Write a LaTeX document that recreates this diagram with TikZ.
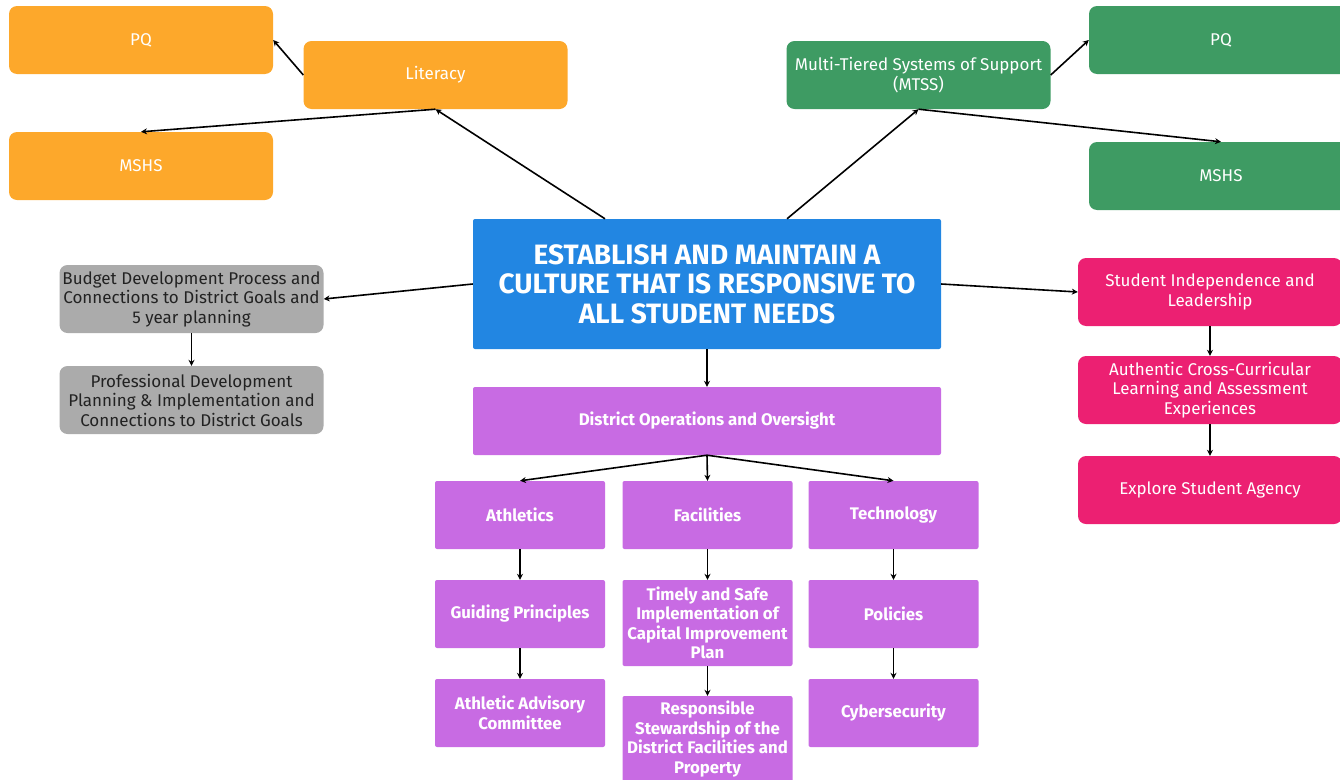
\documentclass[tikz,border=0pt]{standalone}
\usepackage{fontspec}
\setmainfont{Fira Sans}
\usetikzlibrary{arrows.meta}
\definecolor{goal_orange}{RGB}{253, 168, 43}
\definecolor{goal_green}{RGB}{62, 155, 99}
\definecolor{goal_blue}{RGB}{34, 134, 226}
\definecolor{goal_gray}{RGB}{171, 171, 171}
\definecolor{goal_pink}{RGB}{236, 32, 114}
\definecolor{goal_purple}{RGB}{200, 107, 227}
\definecolor{dark_text}{RGB}{34, 34, 34}

\tikzset{
  box/.style={rounded corners=8pt, minimum width=264pt, minimum height=68pt,
    inner sep=2pt, align=center, text=white,
    font=\fontsize{17}{19.5}\selectfont},
  orangebox/.style={box, fill=goal_orange},
  greenbox/.style={box, fill=goal_green},
  graybox/.style={box, fill=goal_gray, text=dark_text},
  pinkbox/.style={box, fill=goal_pink},
  rootbox/.style={fill=goal_blue, rounded corners=2pt, minimum width=468pt,
    minimum height=130pt, align=center, text=white,
    font=\bfseries\fontsize{28}{29.5}\selectfont},
  opsbox/.style={fill=goal_purple, rounded corners=2pt, minimum width=170pt,
    minimum height=68pt, inner sep=1pt, align=center, text=white,
    font=\bfseries\fontsize{16.8}{19.5}\selectfont},
  link/.style={-{Stealth[length=6pt, width=6pt]}, line width=1.6pt}
}

\begin{document}
\begin{tikzpicture}[x=1pt, y=-1pt]
\useasboundingbox (0, 0) rectangle (1340, 779);
\clip (0, 0) rectangle (1340, 779);

% centre
\node[rootbox] (root) at (707, 284)
  {ESTABLISH AND MAINTAIN A\\CULTURE THAT IS RESPONSIVE TO\\ALL STUDENT NEEDS};

% literacy
\node[orangebox] (pqL) at (141, 40) {PQ};
\node[orangebox] (lit) at (435.5, 75) {Literacy};
\node[orangebox] (mshsL) at (141, 166) {MSHS};

% mtss
\node[greenbox] (mtss) at (918.5, 75) {Multi-Tiered Systems of Support\\(MTSS)};
\node[greenbox] (pqR) at (1221, 40) {PQ};
\node[greenbox] (mshsR) at (1221, 176) {MSHS};

% budget
\node[graybox] (budget) at (191.5, 299)
  {Budget Development Process and\\Connections to District Goals and\\5 year planning};
\node[graybox] (pd) at (191.5, 400)
  {Professional Development\\Planning \& Implementation and\\Connections to District Goals};

% students
\node[pinkbox] (indep) at (1210, 292) {Student Independence and\\Leadership};
\node[pinkbox] (cross) at (1210, 390)
  {Authentic Cross-Curricular\\Learning and Assessment\\Experiences};
\node[pinkbox] (agency) at (1210, 490) {Explore Student Agency};

% operations
\node[opsbox, minimum width=468pt] (ops) at (707, 421) {District Operations and Oversight};
\node[opsbox] (ath) at (520, 515) {Athletics};
\node[opsbox] (fac) at (707.5, 515) {Facilities};
\node[opsbox] (tech) at (893.5, 515) {Technology\vphantom{A}};
\node[opsbox] (guide) at (520, 614) {Guiding Principles};
\node[opsbox, minimum height=86pt] (capital) at (707.5, 623)
  {Timely and Safe\\Implementation of\\Capital Improvement\\Plan};
\node[opsbox] (policy) at (893.5, 614) {Policies};
\node[opsbox] (advisory) at (520, 713) {Athletic Advisory\\Committee};
\node[opsbox, minimum height=86pt] (steward) at (707.5, 739)
  {Responsible\\Stewardship of the\\District Facilities and\\Property};
\node[opsbox] (cyber) at (893.5, 713) {Cybersecurity};

% connectors
\draw[link] ([xshift=-102pt]root.north) -- (lit.south);
\draw[link] (lit.west) -- (pqL.east);
\draw[link] (lit.south) -- (mshsL.north);
\draw[link] ([xshift=80pt]root.north) -- (mtss.south);
\draw[link] (mtss.east) -- (pqR.west);
\draw[link] (mtss.south) -- (mshsR.north);
\draw[link] (root.west) -- (budget.east);
\draw[link] (budget) -- (pd);
\draw[link] (root.east) -- (indep.west);
\draw[link] (indep) -- (cross);
\draw[link] (cross) -- (agency);
\draw[link] (root) -- (ops);
\foreach \k in {ath, fac, tech}
  \draw[link] (ops.south) -- (\k.north);
\foreach \a/\b in {ath/guide, guide/advisory, fac/capital, capital/steward, tech/policy, policy/cyber}
  \draw[link] (\a) -- (\b);
\end{tikzpicture}
\end{document}
